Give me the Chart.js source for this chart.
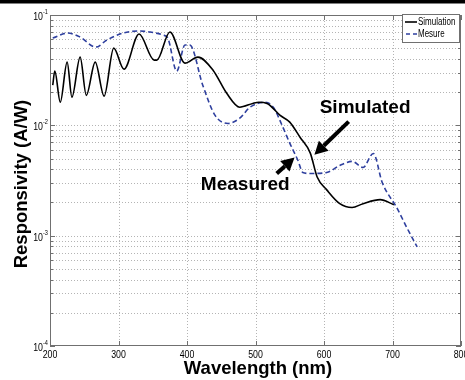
<!DOCTYPE html>
<html>
<head>
<meta charset="utf-8">
<script src="https://cdn.jsdelivr.net/npm/chart.js@4/dist/chart.umd.min.js"></script>
<style>
  html, body { margin: 0; padding: 0; background: #fff; }
  #wrap { width: 465px; height: 380px; position: relative; }
</style>
</head>
<body>
<div id="wrap"><canvas id="respChart" width="465" height="380"></canvas></div>
<script>
// wavelength (nm) / responsivity (A/W)
const simWavelength = [204, 207, 215, 225, 232, 244, 253, 266, 279, 293, 308, 330, 352, 356, 375, 397, 416, 438, 458, 477, 496, 505, 517, 536, 550, 565, 580, 590, 604, 623, 641, 657, 682, 702];
const simValues = [0.0231, 0.0310, 0.0162, 0.0374, 0.0180, 0.0415, 0.0187, 0.0374, 0.0184, 0.0501, 0.0323, 0.0672, 0.0390, 0.0390, 0.0701, 0.0366, 0.0415, 0.0316, 0.0195, 0.0146, 0.0158, 0.0162, 0.0158, 0.0123, 0.0107, 0.0078, 0.0056, 0.0034, 0.0026, 0.00195, 0.0018, 0.00195, 0.00212, 0.00191];

const mesWavelength = [204, 226, 244, 267, 283, 307, 329, 346, 365, 372, 385, 397, 404, 423, 441, 460, 477, 492, 514, 526, 540, 550, 562, 569, 580, 604, 623, 641, 657, 672, 685, 707, 721, 736];
const mesValues = [0.0618, 0.0686, 0.0631, 0.0512, 0.0593, 0.0686, 0.0716, 0.0701, 0.0658, 0.0618, 0.0310, 0.0534, 0.0534, 0.0231, 0.0123, 0.0104, 0.0116, 0.0146, 0.0162, 0.0146, 0.0096, 0.0069, 0.0048, 0.00374, 0.00366, 0.00374, 0.00433, 0.00471, 0.00415, 0.00556, 0.00303, 0.00176, 0.00118, 0.00079];

const xTicks = [200, 300, 400, 500, 600, 700, 800];
const yTicks = [1e-4, 1e-3, 1e-2, 1e-1];
const yTickExp = ['-4', '-3', '-2', '-1'];
const yMinor = [2e-4, 3e-4, 4e-4, 5e-4, 6e-4, 7e-4, 8e-4, 9e-4,
                2e-3, 3e-3, 4e-3, 5e-3, 6e-3, 7e-3, 8e-3, 9e-3,
                2e-2, 3e-2, 4e-2, 5e-2, 6e-2, 7e-2, 8e-2, 9e-2];

const seriesNames = ['Simulation', 'Mesure'];

// annotation arrows in data units: [tailX, tailY, headX, headY]
const simArrow = [636, 0.0108, 586, 0.0054];
const mesArrow = [531, 0.00366, 557, 0.0051];
const simLabel = ['Simulated', 660, 0.0143];
const mesLabel = ['Measured', 485, 0.0029];

const SANS = '"Liberation Sans", Arial, sans-serif';
const BLUE = '#2e3f9e';

function toPoints(xs, ys) {
    return xs.map((x, i) => ({ x: x, y: ys[i] }));
}

// MATLAB's tick font looks condensed, squeeze it horizontally
function narrowText(ctx, txt, x, y, size, align) {
    ctx.save();
    ctx.translate(x, y);
    ctx.scale(0.8, 1);
    ctx.font = size + 'px ' + SANS;
    ctx.textAlign = align;
    ctx.textBaseline = 'middle';
    ctx.fillText(txt, 0, 0);
    ctx.restore();
}

function arrow(ctx, x1, y1, x2, y2) {
    const a = Math.atan2(y2 - y1, x2 - x1);
    const hl = 13, hw = 7;
    const bx = x2 - hl * Math.cos(a), by = y2 - hl * Math.sin(a);
    ctx.beginPath();
    ctx.moveTo(x1, y1);
    ctx.lineTo(bx, by);
    ctx.lineWidth = 4;
    ctx.strokeStyle = '#000';
    ctx.setLineDash([]);
    ctx.stroke();
    ctx.beginPath();
    ctx.moveTo(x2, y2);
    ctx.lineTo(bx + hw * Math.sin(a), by - hw * Math.cos(a));
    ctx.lineTo(bx - hw * Math.sin(a), by + hw * Math.cos(a));
    ctx.closePath();
    ctx.fillStyle = '#000';
    ctx.fill();
}

const gridPlugin = {
    id: 'matlabGrid',
    beforeDatasetsDraw(chart) {
        const { ctx, chartArea: a, scales: { x, y } } = chart;
        ctx.save();
        ctx.strokeStyle = '#b4b4b4';
        ctx.lineWidth = 1;
        ctx.setLineDash([1, 2]);
        xTicks.slice(1, -1).forEach(v => {
            const px = Math.round(x.getPixelForValue(v)) + 0.5;
            ctx.beginPath(); ctx.moveTo(px, a.top); ctx.lineTo(px, a.bottom); ctx.stroke();
        });
        yTicks.slice(1, -1).concat(yMinor).forEach(v => {
            const py = Math.round(y.getPixelForValue(v)) + 0.5;
            ctx.beginPath(); ctx.moveTo(a.left, py); ctx.lineTo(a.right, py); ctx.stroke();
        });
        ctx.restore();
    },
    afterDraw(chart) {
        const { ctx, chartArea: a, scales: { x, y } } = chart;
        ctx.save();
        ctx.setLineDash([]);

        // top black bar of the figure
        ctx.fillStyle = '#000';
        ctx.fillRect(0, 0, chart.width, 3.5);

        // axes box + ticks
        ctx.strokeStyle = '#707070';
        ctx.lineWidth = 1;
        ctx.strokeRect(a.left + 0.5, a.top + 0.5, a.right - a.left - 1, a.bottom - a.top - 1);
        ctx.beginPath();
        xTicks.forEach(v => {
            const px = Math.round(x.getPixelForValue(v)) + 0.5;
            ctx.moveTo(px, a.bottom); ctx.lineTo(px, a.bottom - 5);
            ctx.moveTo(px, a.top); ctx.lineTo(px, a.top + 5);
        });
        yTicks.forEach(v => {
            const py = Math.round(y.getPixelForValue(v)) + 0.5;
            ctx.moveTo(a.left, py); ctx.lineTo(a.left + 5, py);
            ctx.moveTo(a.right, py); ctx.lineTo(a.right - 5, py);
        });
        yMinor.forEach(v => {
            const py = Math.round(y.getPixelForValue(v)) + 0.5;
            ctx.moveTo(a.left, py); ctx.lineTo(a.left + 3, py);
            ctx.moveTo(a.right, py); ctx.lineTo(a.right - 3, py);
        });
        ctx.stroke();

        // tick labels
        ctx.fillStyle = '#000';
        xTicks.forEach(v => narrowText(ctx, String(v), x.getPixelForValue(v), a.bottom + 9, 11, 'center'));
        yTicks.forEach((v, i) => {
            const py = y.getPixelForValue(v);
            narrowText(ctx, '10', a.left - 7, py + 2, 11, 'right');
            narrowText(ctx, yTickExp[i], a.left - 7, py - 3, 7, 'left');
        });

        // axis titles
        ctx.font = 'bold 18.5px ' + SANS;
        ctx.textAlign = 'center';
        ctx.textBaseline = 'middle';
        ctx.fillText('Wavelength (nm)', 258, 369);
        ctx.save();
        ctx.translate(22, 184);
        ctx.rotate(-Math.PI / 2);
        ctx.fillText('Responsivity (A/W)', 0, 0);
        ctx.restore();

        // annotations
        ctx.font = 'bold 19px ' + SANS;
        ctx.fillText(simLabel[0], x.getPixelForValue(simLabel[1]), y.getPixelForValue(simLabel[2]));
        ctx.fillText(mesLabel[0], x.getPixelForValue(mesLabel[1]), y.getPixelForValue(mesLabel[2]));
        [simArrow, mesArrow].forEach(r => arrow(ctx,
            x.getPixelForValue(r[0]), y.getPixelForValue(r[1]),
            x.getPixelForValue(r[2]), y.getPixelForValue(r[3])));

        // legend
        const lx = 402, ly = 14, lw = 57, lh = 28;
        ctx.fillStyle = '#fff';
        ctx.fillRect(lx, ly, lw, lh);
        ctx.strokeStyle = '#707070';
        ctx.lineWidth = 1;
        ctx.strokeRect(lx + 0.5, ly + 0.5, lw, lh);
        ctx.lineWidth = 1.6;
        ctx.strokeStyle = '#000';
        ctx.beginPath(); ctx.moveTo(lx + 3, ly + 8); ctx.lineTo(lx + 15, ly + 8); ctx.stroke();
        ctx.strokeStyle = BLUE;
        ctx.setLineDash([4, 3]);
        ctx.beginPath(); ctx.moveTo(lx + 4, ly + 20); ctx.lineTo(lx + 15, ly + 20); ctx.stroke();
        ctx.setLineDash([]);
        ctx.fillStyle = '#000';
        narrowText(ctx, seriesNames[0], lx + 16, ly + 8, 10, 'left');
        narrowText(ctx, seriesNames[1], lx + 16, ly + 20, 10, 'left');
        ctx.restore();
    }
};

new Chart(document.getElementById('respChart').getContext('2d'), {
    type: 'line',
    data: {
        datasets: [
            {
                label: seriesNames[0],
                data: toPoints(simWavelength, simValues),
                borderColor: '#000',
                borderWidth: 1.6,
                pointRadius: 0,
                cubicInterpolationMode: 'monotone',
                fill: false
            },
            {
                label: seriesNames[1],
                data: toPoints(mesWavelength, mesValues),
                borderColor: BLUE,
                borderWidth: 1.6,
                borderDash: [5, 3],
                pointRadius: 0,
                cubicInterpolationMode: 'monotone',
                fill: false
            }
        ]
    },
    options: {
        responsive: false,
        animation: false,
        devicePixelRatio: 1,
        layout: { padding: { left: 50, top: 15, right: 4, bottom: 34 } },
        plugins: { legend: { display: false }, tooltip: { enabled: false } },
        scales: {
            x: { type: 'linear', min: 200, max: 800, display: false },
            y: { type: 'logarithmic', min: 1e-4, max: 1e-1, display: false }
        }
    },
    plugins: [gridPlugin]
});
</script>
</body>
</html>
